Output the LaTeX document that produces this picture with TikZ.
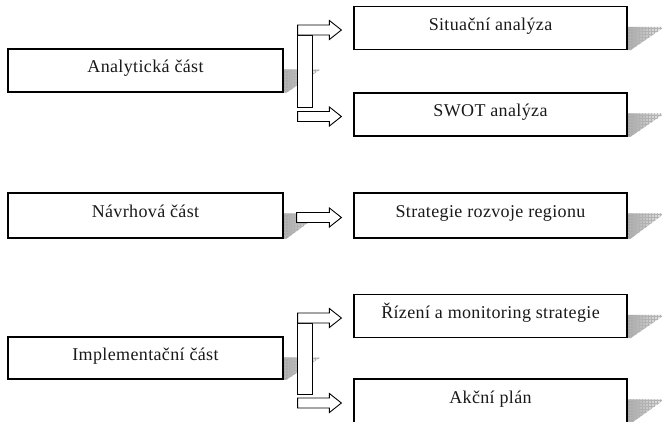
\documentclass[tikz,border=0pt]{standalone}
\usepackage{fontspec}
\setmainfont{Liberation Serif}
\usetikzlibrary{calc,patterns}

% shadow wedge at the lower right of a box
\newcommand\boxshadow[1]{%
  \path[fillshadow] let \p1=(#1.north east), \p2=(#1.south east) in
    (\x1+0.5pt,\y1-21pt) -- (\x1+37pt,\y1-21pt) -- (\x1+3pt,\y2) -- (\x2+0.5pt,\y2) -- cycle;}
% hollow block arrow from a start point to the west side of a box
\newcommand\blockarrow[2]{%
  \draw[blockarr] let \p1=(#1), \p2=([xshift=-12pt,yshift=-2pt]#2.west) in
    (\x1,\y2+5pt) -- (\x2-12pt,\y2+5pt) -- (\x2-12pt,\y2+9.5pt) -- (\x2,\y2)
    -- (\x2-12pt,\y2-9.5pt) -- (\x2-12pt,\y2-5pt) -- (\x1,\y2-5pt) -- cycle;}
% bar with two block arrows to an upper and a lower box
\newcommand\branch[3]{%
  \draw[blockarr] let \p0=([xshift=14pt]#1.east), \p1=([yshift=-2pt]#2.west),
    \p2=([yshift=-2pt]#3.west) in (\x0,\y1-5pt) rectangle (\x0+15pt,\y2+9pt);
  \blockarrow{[xshift=14pt]#1.east}{#2}
  \blockarrow{[xshift=14pt]#1.east}{#3}}

\begin{document}
\begin{tikzpicture}[
  x=1pt, y=-1pt,
  partbox/.style={draw, line width=1.2pt, fill=white,
                  minimum width=275pt, minimum height=43pt, inner sep=0pt,
                  text height=12pt, text depth=8pt, text=black!90,
                  font=\fontsize{18}{20}\selectfont\addfontfeature{LetterSpace=2}},
  itembox/.style={partbox, minimum width=273pt},
  blockarr/.style={draw, line width=0.9pt, fill=white, line join=miter},
  fillshadow/.style={left color=gray!70, right color=gray!15,
                     postaction={pattern=grid, pattern color=gray!60}},
]
\useasboundingbox (0,0) rectangle (662,421);
\clip (0,0) rectangle (662,421);

% --- Parts (left) ---
\node[partbox] (an) at (145.5,70.5) {Analytická část};
\node[partbox, minimum height=45pt] (nv) at (145.5,215.5) {Návrhová část};
\node[partbox, minimum height=42pt] (im) at (145.5,358) {Implementační část};

% --- Outputs (right) ---
\node[itembox] (si) at (490.5,28) {Situační analýza};
\node[itembox] (sw) at (490.5,114.5) {SWOT analýza};
\node[itembox, minimum height=45pt] (st) at (490.5,215.5) {Strategie rozvoje regionu};
\node[itembox] (ri) at (490.5,316) {Řízení a monitoring strategie};
\node[itembox, minimum height=44pt] (ak) at (490.5,401) {Akční plán};

\foreach \b in {an,nv,im,si,sw,st,ri,ak} {\boxshadow{\b}}

% --- Block arrows ---
\branch{an}{si}{sw}
\blockarrow{[xshift=13pt]nv.east}{st}
\branch{im}{ri}{ak}
\end{tikzpicture}
\end{document}
